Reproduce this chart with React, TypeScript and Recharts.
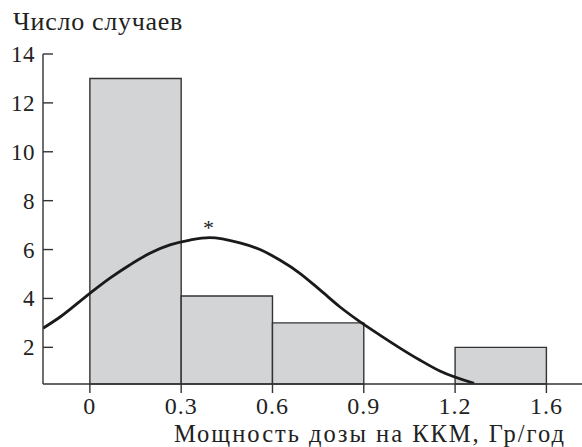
import React from 'react';
import { ComposedChart, Line, XAxis, YAxis, ReferenceArea, ReferenceDot } from 'recharts';

// histogram bins (Gy/year) and case counts
const binEdges = [0, 0.3, 0.6, 0.9, 1.2, 1.6];
const tickLabels = ['0', '0.3', '0.6', '0.9', '1.2', '1.6'];
const counts = [13, 4.1, 3, 0, 2];
const yTicks = [2, 4, 6, 8, 10, 12, 14];

// fitted curve
const curveDose = [-0.154, -0.099, 0, 0.066, 0.131, 0.197, 0.263, 0.329, 0.394, 0.493, 0.559, 0.624, 0.69, 0.756, 0.821, 0.887, 0.953, 1.019, 1.084, 1.15, 1.283];
const curveCount = [2.78, 3.23, 4.21, 4.83, 5.37, 5.85, 6.19, 6.39, 6.49, 6.27, 6.0, 5.57, 5.03, 4.35, 3.66, 3.05, 2.5, 1.97, 1.48, 1.03, 0.53];

const FONT = '"Times New Roman", "Liberation Serif", Tinos, serif';
const INK = '#333';

// axis is evenly spaced per bin, so map a dose to bin position
const pos = (d: number) => {
  if (d <= binEdges[0]) return (d - binEdges[0]) / (binEdges[1] - binEdges[0]);
  for (let i = 0; i < binEdges.length - 1; i++) {
    if (d <= binEdges[i + 1]) return i + (d - binEdges[i]) / (binEdges[i + 1] - binEdges[i]);
  }
  const n = binEdges.length - 1;
  return n - 1 + (d - binEdges[n - 1]) / (binEdges[n] - binEdges[n - 1]);
};

const curveData = curveDose.map((d, i) => ({ x: pos(d), y: curveCount[i] }));
const xTicks = binEdges.map((_, i) => i);

const YTick = (props: any) => {
  const { x, y, payload } = props;
  return (
    <g>
      <line x1={x + 7} x2={x + 17} y1={y} y2={y} stroke={INK} strokeWidth={1.4} />
      <text x={x - 1} y={y} dy={8} textAnchor="end" fontFamily={FONT} fontSize={23} fill="#222" letterSpacing={0.5}>
        {payload.value}
      </text>
    </g>
  );
};

export default function App() {
  return (
    <div style={{ position: 'absolute', left: 0, top: 0, width: 582, height: 447, background: '#fff' }}>
      <div style={{ position: 'absolute', left: 13, top: 9, fontFamily: FONT, fontSize: 26, lineHeight: '26px', letterSpacing: 0.7, color: '#222' }}>
        Число случаев
      </div>
      <div style={{ position: 'absolute', right: 16, top: 420, fontFamily: FONT, fontSize: 24.5, lineHeight: '27px', letterSpacing: 2, color: '#222', whiteSpace: 'nowrap' }}>
        Мощность дозы на ККМ, Гр/год
      </div>
      <ComposedChart width={582} height={447} margin={{ top: 54, right: 0, bottom: 33, left: 0 }}>
        <XAxis
          type="number"
          dataKey="x"
          domain={[pos(-0.154), 5.39]}
          ticks={xTicks}
          tickFormatter={(v: number) => tickLabels[v] ?? ''}
          allowDataOverflow
          height={30}
          stroke={INK}
          strokeWidth={1.4}
          tickSize={9}
          tickMargin={4}
          tick={{ fontFamily: FONT, fontSize: 24, fill: '#222', letterSpacing: 1 }}
        />
        <YAxis
          type="number"
          domain={[0.5, 14]}
          ticks={yTicks}
          allowDataOverflow
          width={43}
          stroke={INK}
          strokeWidth={1.4}
          tickLine={false}
          tickSize={0}
          tickMargin={7}
          tick={<YTick />}
        />
        {counts.map((c, i) =>
          c > 0 ? (
            <ReferenceArea
              key={i}
              x1={pos(binEdges[i])}
              x2={pos(binEdges[i + 1])}
              y1={0.5}
              y2={c}
              fill="#d3d4d6"
              fillOpacity={1}
              stroke={INK}
              strokeWidth={1.4}
            />
          ) : null
        )}
        <Line
          data={curveData}
          dataKey="y"
          type="monotone"
          stroke="#1a1a1a"
          strokeWidth={2.8}
          dot={false}
          isAnimationActive={false}
        />
        <ReferenceDot
          x={pos(0.39)}
          y={6.5}
          r={0}
          stroke="none"
          label={{ value: '*', position: 'top', offset: 2, fontFamily: FONT, fontSize: 22, fill: '#222' }}
        />
      </ComposedChart>
    </div>
  );
}
